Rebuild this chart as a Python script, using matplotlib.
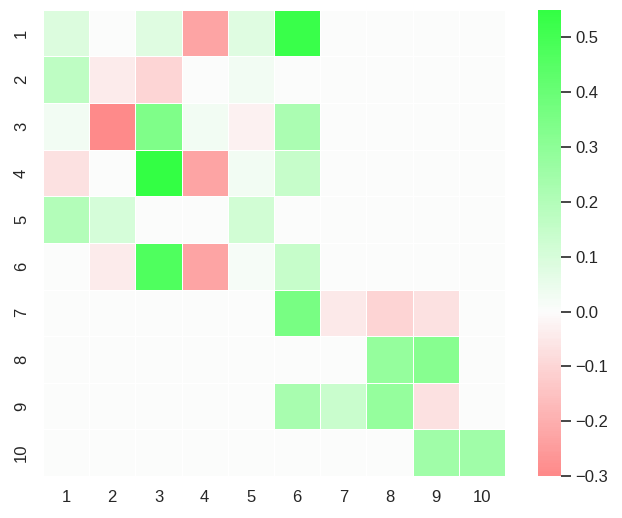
import numpy as np
import matplotlib
matplotlib.use("Agg")
import matplotlib.pyplot as plt
import seaborn as sns
from matplotlib.colors import LinearSegmentedColormap

labels = [str(i) for i in range(1, 11)]

row1 = [0.09, 0.0, 0.08, -0.23, 0.08, 0.53, 0, 0, 0, 0]
row2 = [0.17, -0.045, -0.10, 0.0, 0.03, 0, 0, 0, 0, 0]
row3 = [0.03, -0.30, 0.34, 0.03, -0.025, 0.22, 0, 0, 0, 0]
row4 = [-0.07, 0.0, 0.55, -0.23, 0.03, 0.15, 0, 0, 0, 0]
row5 = [0.20, 0.105, 0.0, 0.0, 0.12, 0, 0, 0, 0, 0]
row6 = [0.0, -0.045, 0.47, -0.23, 0.015, 0.15, 0, 0, 0, 0]
row7 = [0, 0, 0, 0, 0, 0.36, -0.05, -0.105, -0.07, 0]
row8 = [0, 0, 0, 0, 0, 0, 0, 0.28, 0.32, 0]
row9 = [0, 0, 0, 0, 0, 0.23, 0.14, 0.28, -0.07, 0]
row10 = [0, 0, 0, 0, 0, 0, 0, 0, 0.25, 0.25]

data = np.array([row1, row2, row3, row4, row5, row6, row7, row8, row9, row10])

sns.set_theme(style="ticks")
plt.rcParams['font.family'] = ['Liberation Sans', 'DejaVu Sans']

cmap = LinearSegmentedColormap.from_list("rg", ["#ff2a2a", "#fcfcfc", "#33ff44"])

fig = plt.figure(figsize=(6.22, 5.18), dpi=100)
ax = fig.add_axes([0.069, 0.081, 0.743, 0.9])
cax = fig.add_axes([0.865, 0.081, 0.037, 0.9])
sns.heatmap(data, ax=ax, cbar_ax=cax, cmap=cmap, center=0, vmin=-0.3, vmax=0.55,
            linewidths=0.5, linecolor="white",
            xticklabels=labels, yticklabels=labels)
ax.tick_params(axis='both', length=0, labelsize=12, pad=10)
ax.set_yticklabels(labels, rotation=90, va='center')
cax.tick_params(labelsize=12, length=7, width=1.2, pad=3)
cax.set_yticks([-0.3, -0.2, -0.1, 0.0, 0.1, 0.2, 0.3, 0.4, 0.5])
for s in cax.spines.values():
    s.set_visible(False)

fig.savefig("out.png", dpi=100)
